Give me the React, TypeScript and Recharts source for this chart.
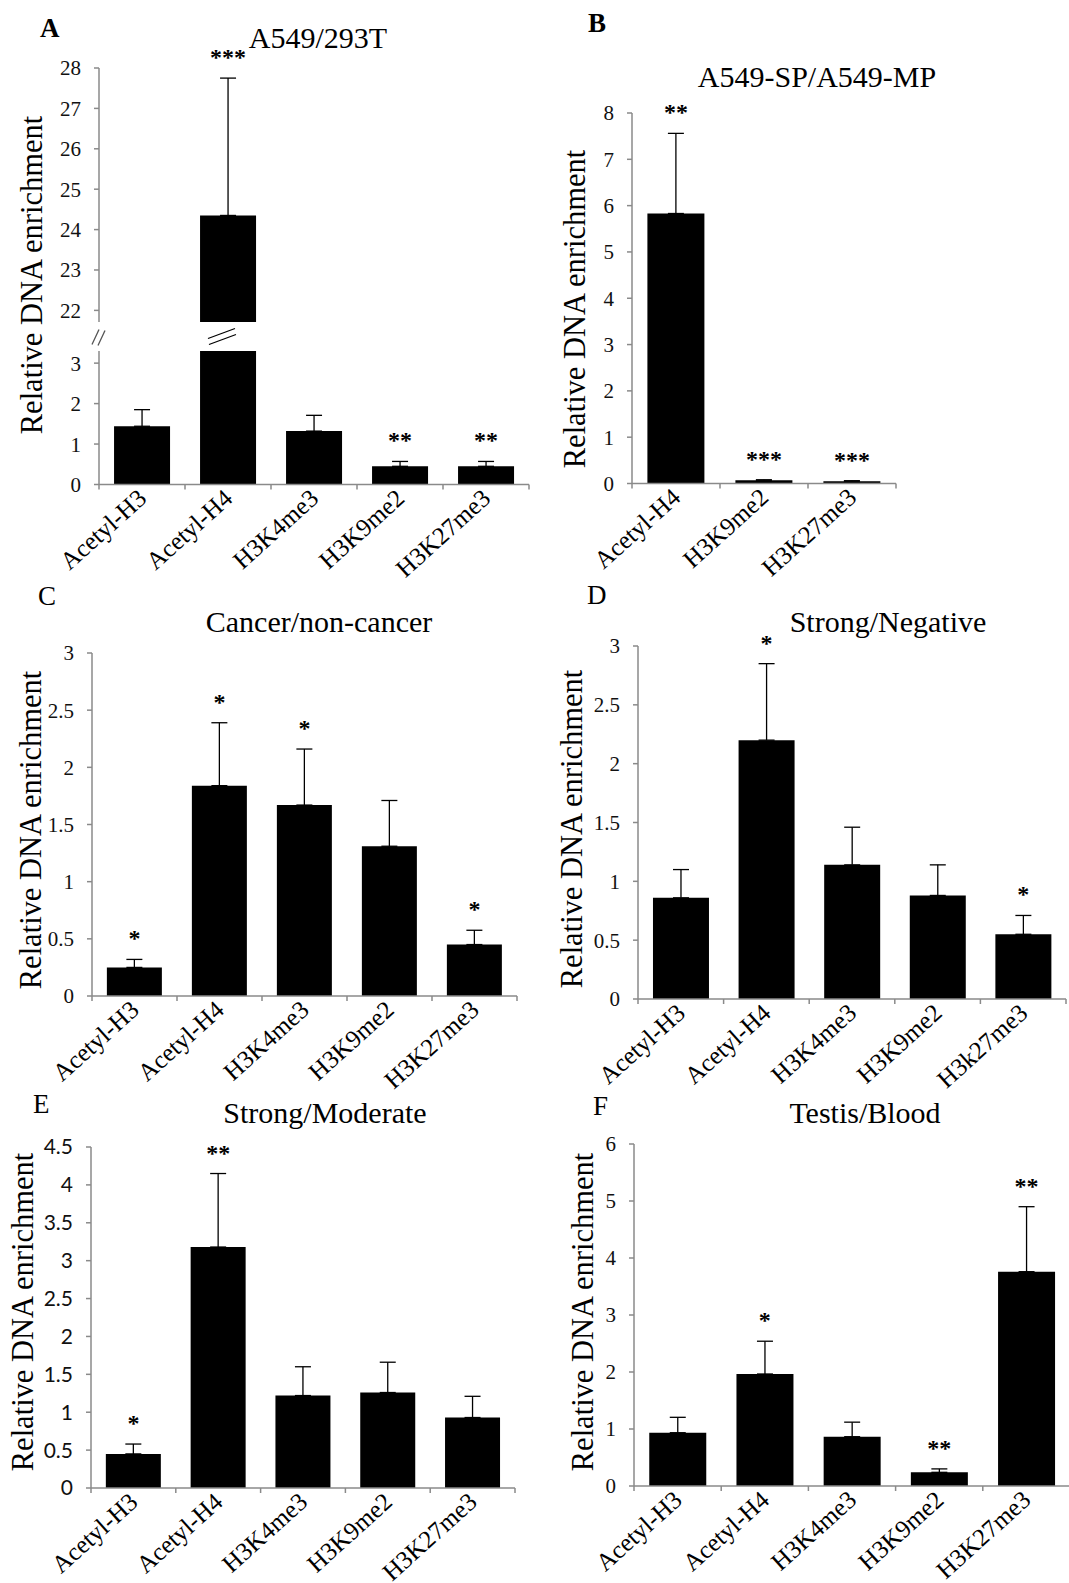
import React from "react";
import { ComposedChart, Bar, ErrorBar, Line, XAxis, YAxis } from "recharts";

const SERIF = '"Liberation Serif", "Times New Roman", serif';
const SANS = 'Lato, "Open Sans", sans-serif';
const GREY = "#8a8a8a";

// ---- data ----
const marks = ["Acetyl-H3", "Acetyl-H4", "H3K4me3", "H3K9me2", "H3K27me3"];
const marksB = ["Acetyl-H4", "H3K9me2", "H3K27me3"];
const marksD = ["Acetyl-H3", "Acetyl-H4", "H3K4me3", "H3K9me2", "H3k27me3"];

const valuesA = [1.44, 24.35, 1.32, 0.45, 0.45];
const errorsA = [0.41, 3.4, 0.39, 0.12, 0.12];
const starsA = ["", "***", "", "**", "**"];

const valuesB = [5.83, 0.07, 0.05];
const errorsB = [1.73, 0.01, 0.01];
const starsB = ["**", "***", "***"];

const valuesC = [0.25, 1.84, 1.67, 1.31, 0.45];
const errorsC = [0.07, 0.55, 0.49, 0.4, 0.125];
const starsC = ["*", "*", "*", "", "*"];

const valuesD = [0.86, 2.2, 1.14, 0.88, 0.55];
const errorsD = [0.24, 0.65, 0.32, 0.26, 0.16];
const starsD = ["", "*", "", "", "*"];

const valuesE = [0.45, 3.18, 1.22, 1.26, 0.93];
const errorsE = [0.13, 0.97, 0.38, 0.4, 0.28];
const starsE = ["*", "**", "", "", ""];

const valuesF = [0.935, 1.965, 0.865, 0.24, 3.76];
const errorsF = [0.27, 0.575, 0.255, 0.06, 1.14];
const starsF = ["", "*", "", "**", "**"];

const ticksALow = [0, 1, 2, 3];
const ticksAHigh = [22, 23, 24, 25, 26, 27, 28];
const ticksB = [0, 1, 2, 3, 4, 5, 6, 7, 8];
const ticksCD = [0, 0.5, 1, 1.5, 2, 2.5, 3];
const ticksE = [0, 0.5, 1, 1.5, 2, 2.5, 3, 3.5, 4, 4.5];
const ticksF = [0, 1, 2, 3, 4, 5, 6];

// broken axis in panel A
const BREAK_LOW = 3.3;
const BREAK_HIGH = 21.7;

type Row = {
  name: string;
  value: number | null;
  err: [number, number] | null;
  top: number | null;
  star: string;
};

const rowsFor = (
  names: string[],
  values: number[],
  errors: number[],
  stars: string[],
  min = -Infinity,
  max = Infinity
): Row[] =>
  names.map((name, i) => {
    const v = values[i];
    const inside = v >= min && v <= max;
    return {
      name,
      value: v >= min ? v : null,
      err: inside ? [0, errors[i]] : null,
      top: inside ? v + errors[i] : null,
      star: inside ? stars[i] : "",
    };
  });

// ---- layout (plot rectangles in page pixels) ----
type Frame = { left: number; right: number; top: number; bottom: number };
const frameAHigh: Frame = { left: 99, right: 529, top: 67.5, bottom: 322 };
const frameALow: Frame = { left: 99, right: 529, top: 351, bottom: 484.5 };
const frameB: Frame = { left: 632, right: 896, top: 113, bottom: 483.5 };
const frameC: Frame = { left: 92, right: 517, top: 653, bottom: 996 };
const frameD: Frame = { left: 638, right: 1066, top: 646, bottom: 999 };
const frameE: Frame = { left: 91, right: 515, top: 1147, bottom: 1488 };
const frameF: Frame = { left: 634, right: 1070, top: 1144, bottom: 1486 };

const YW = 90;
const MT = 40;
const MR = 12;
const XH = 140;

function CategoryTick(props: any) {
  const { x, y, payload, index, band, count } = props;
  const half = band / 2;
  const tx = x + 6;
  const ty = y + 16;
  return (
    <g>
      <line x1={x - half} x2={x - half} y1={y} y2={y + 5} stroke={GREY} strokeWidth={1.5} />
      {index === count - 1 && (
        <line x1={x + half} x2={x + half} y1={y} y2={y + 5} stroke={GREY} strokeWidth={1.5} />
      )}
      <text
        x={tx}
        y={ty}
        transform={`rotate(-42 ${tx} ${ty})`}
        textAnchor="end"
        fontFamily={SERIF}
        fontSize={25}
        fill="#000"
      >
        {payload.value}
      </text>
    </g>
  );
}

const renderStar = (p: any) => {
  const star = p.payload?.star;
  const key = `star-${p.index}`;
  if (!star || p.cy == null || Number.isNaN(p.cy)) return <g key={key} />;
  return (
    <text
      key={key}
      x={p.cx}
      y={p.cy - 13}
      textAnchor="middle"
      fontFamily={SERIF}
      fontSize={24}
      fontWeight={700}
      fill="#000"
    >
      {star}
    </text>
  );
};

interface PanelProps {
  frame: Frame;
  rows: Row[];
  domain: [number, number];
  ticks: number[];
  tickFont?: string;
  showX?: boolean;
  overflow?: boolean;
}

function Panel({ frame, rows, domain, ticks, tickFont = SERIF, showX = true, overflow = false }: PanelProps) {
  const plotW = frame.right - frame.left;
  const plotH = frame.bottom - frame.top;
  const band = plotW / rows.length;
  const width = plotW + YW + MR;
  const height = plotH + MT + (showX ? XH : 0);
  return (
    <div style={{ position: "absolute", left: frame.left - YW, top: frame.top - MT }}>
      <ComposedChart
        width={width}
        height={height}
        data={rows}
        margin={{ top: MT, right: MR, left: 0, bottom: 0 }}
        barCategoryGap="17.5%"
      >
        <XAxis
          dataKey="name"
          hide={!showX}
          height={XH}
          interval={0}
          axisLine={{ stroke: GREY, strokeWidth: 1.5 }}
          tickLine={false}
          tickSize={0}
          tickMargin={0}
          tick={(p: any) => <CategoryTick {...p} band={band} count={rows.length} />}
        />
        <YAxis
          width={YW}
          domain={domain}
          ticks={ticks}
          interval={0}
          allowDataOverflow={overflow}
          axisLine={{ stroke: GREY, strokeWidth: 1.5 }}
          tickLine={{ stroke: GREY, strokeWidth: 1.5 }}
          tickSize={5}
          tickMargin={13}
          tick={{ fill: "#111", fontSize: 21, fontFamily: tickFont }}
        />
        <Bar dataKey="value" fill="#000" isAnimationActive={false}>
          <ErrorBar dataKey="err" width={8} stroke="#000" strokeWidth={1.3} direction="y" />
        </Bar>
        <Line
          dataKey="top"
          stroke="none"
          dot={renderStar}
          activeDot={false}
          legendType="none"
          isAnimationActive={false}
        />
      </ComposedChart>
    </div>
  );
}

const letters = [
  { t: "A", x: 40, y: 37, bold: true },
  { t: "B", x: 588, y: 32, bold: true },
  { t: "C", x: 38, y: 605, bold: false },
  { t: "D", x: 587, y: 604, bold: false },
  { t: "E", x: 33, y: 1113, bold: false },
  { t: "F", x: 593, y: 1115, bold: false },
];

const titles = [
  { t: "A549/293T", x: 318, y: 48 },
  { t: "A549-SP/A549-MP", x: 817, y: 87 },
  { t: "Cancer/non-cancer", x: 319, y: 632 },
  { t: "Strong/Negative", x: 888, y: 632 },
  { t: "Strong/Moderate", x: 325, y: 1123 },
  { t: "Testis/Blood", x: 865, y: 1123 },
];

const yLabels = [
  { x: 32, y: 275 },
  { x: 575, y: 309 },
  { x: 31, y: 830 },
  { x: 572, y: 829 },
  { x: 22.5, y: 1312 },
  { x: 583, y: 1312 },
];

export default function App() {
  const gapY = (frameAHigh.bottom + frameALow.top) / 2;
  const ax = frameALow.left;
  const bandA = (frameALow.right - frameALow.left) / marks.length;
  const bx = frameALow.left + 1.5 * bandA - 6;

  return (
    <div
      style={{
        position: "absolute",
        left: 0,
        top: 0,
        width: 1069,
        height: 1583,
        overflow: "hidden",
        background: "#fff",
      }}
    >
      <Panel
        frame={frameAHigh}
        rows={rowsFor(marks, valuesA, errorsA, starsA, BREAK_HIGH)}
        domain={[BREAK_HIGH, 28]}
        ticks={ticksAHigh}
        showX={false}
      />
      <Panel
        frame={frameALow}
        rows={rowsFor(marks, valuesA, errorsA, starsA, -Infinity, BREAK_LOW)}
        domain={[0, BREAK_LOW]}
        ticks={ticksALow}
        overflow
      />
      <Panel frame={frameB} rows={rowsFor(marksB, valuesB, errorsB, starsB)} domain={[0, 8]} ticks={ticksB} />
      <Panel frame={frameC} rows={rowsFor(marks, valuesC, errorsC, starsC)} domain={[0, 3]} ticks={ticksCD} />
      <Panel frame={frameD} rows={rowsFor(marksD, valuesD, errorsD, starsD)} domain={[0, 3]} ticks={ticksCD} />
      <Panel
        frame={frameE}
        rows={rowsFor(marks, valuesE, errorsE, starsE)}
        domain={[0, 4.5]}
        ticks={ticksE}
        tickFont={SANS}
      />
      <Panel frame={frameF} rows={rowsFor(marks, valuesF, errorsF, starsF)} domain={[0, 6]} ticks={ticksF} />

      <svg
        width={1069}
        height={1583}
        style={{ position: "absolute", left: 0, top: 0, pointerEvents: "none" }}
      >
        {letters.map((l) => (
          <text key={l.t} x={l.x} y={l.y} fontFamily={SERIF} fontSize={27} fontWeight={l.bold ? 700 : 400} fill="#000">
            {l.t}
          </text>
        ))}
        {titles.map((t) => (
          <text key={t.t} x={t.x} y={t.y} textAnchor="middle" fontFamily={SERIF} fontSize={30} fill="#000">
            {t.t}
          </text>
        ))}
        {yLabels.map((l, i) => (
          <text
            key={i}
            x={l.x}
            y={l.y}
            transform={`rotate(-90 ${l.x} ${l.y})`}
            textAnchor="middle"
            dominantBaseline="central"
            fontFamily={SERIF}
            fontSize={30.5}
            fill="#000"
          >
            Relative DNA enrichment
          </text>
        ))}
        {/* axis break marks */}
        <line x1={ax - 7} y1={gapY + 8} x2={ax} y2={gapY - 7} stroke="#555" strokeWidth={1.3} />
        <line x1={ax - 1} y1={gapY + 9} x2={ax + 6} y2={gapY - 6} stroke="#555" strokeWidth={1.3} />
        <line x1={bx - 14} y1={gapY + 2} x2={bx + 13} y2={gapY - 8} stroke="#000" strokeWidth={1.3} />
        <line x1={bx - 13} y1={gapY + 8} x2={bx + 14} y2={gapY - 2} stroke="#000" strokeWidth={1.3} />
      </svg>
    </div>
  );
}
